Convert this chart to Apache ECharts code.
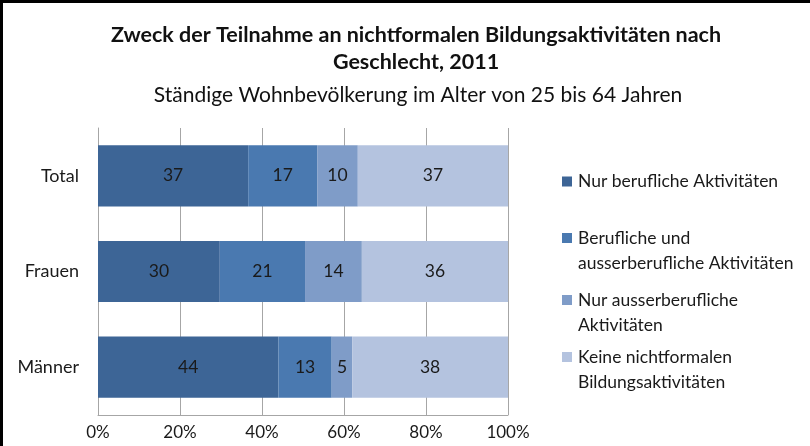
<!DOCTYPE html>
<html>
<head>
<meta charset="utf-8">
<script src="https://cdn.jsdelivr.net/npm/echarts@6/dist/echarts.min.js"></script>
<style>
  html, body { margin: 0; padding: 0; background: #fff; }
  #main { width: 810px; height: 446px; }
</style>
</head>
<body>
<div id="main"></div>
<script>
// Kategorien (von oben nach unten)
var categories = ["Total", "Frauen", "Männer"];
var seriesNames = [
  "Nur berufliche Aktivitäten",
  "Berufliche und ausserberufliche Aktivitäten",
  "Nur ausserberufliche Aktivitäten",
  "Keine nichtformalen Bildungsaktivitäten"
];
// Werte in %, wie beschriftet
var nurBeruflich = [37, 30, 44];
var beruflichUndAusser = [17, 21, 13];
var nurAusser = [10, 14, 5];
var keine = [37, 36, 38];
var xTicks = [0, 20, 40, 60, 80, 100];

var colors = ["#3D6596", "#4A79B0", "#7F9CC8", "#B4C3DF"];
// leere erste Zeile, damit das Symbol auf Höhe der ersten Textzeile sitzt
var legendTexts = [
  "Nur berufliche Aktivitäten",
  " \nBerufliche und\nausserberufliche Aktivitäten",
  " \nNur ausserberufliche\nAktivitäten",
  " \nKeine nichtformalen\nBildungsaktivitäten"
];
var legendTops = [164, 195.5, 257.5, 314.5];

var all = [nurBeruflich, beruflichUndAusser, nurAusser, keine];
// 100%-Stapel: jede Zeile auf ihre Summe normieren
var sums = categories.map(function (c, i) {
  return all.reduce(function (s, arr) { return s + arr[i]; }, 0);
});

var font = "Lato, 'Open Sans', sans-serif";

var series = all.map(function (arr, k) {
  return {
    name: seriesNames[k],
    type: "bar",
    stack: "a",
    barWidth: "64%",
    data: arr.map(function (v, i) { return { value: v / sums[i] * 100, raw: v }; }),
    itemStyle: { color: colors[k] },
    label: {
      show: true,
      position: "inside",
      color: "#1a1a1a",
      fontSize: 17.5,
      fontFamily: font,
      formatter: function (p) { return p.data.raw; }
    },
    emphasis: { disabled: true }
  };
});

var legends = seriesNames.map(function (n, k) {
  return {
    data: [n],
    orient: "vertical",
    left: 557,
    top: legendTops[k],
    itemWidth: 10,
    itemHeight: 10,
    itemGap: 0,
    icon: "rect",
    selectedMode: false,
    formatter: function () { return legendTexts[k]; },
    textStyle: {
      fontSize: 17.5, fontFamily: font, color: "#1a1a1a", lineHeight: 25,
      padding: [0, 0, 0, 1]
    }
  };
});

var chart = echarts.init(document.getElementById("main"));
chart.setOption({
  animation: false,
  color: colors,
  title: [
    {
      text: "Zweck der Teilnahme an nichtformalen Bildungsaktivitäten nach\nGeschlecht, 2011",
      left: 411, textAlign: "center", top: 17,
      textStyle: { fontSize: 21.5, fontWeight: "bold", fontFamily: font, color: "#111", lineHeight: 27 }
    },
    {
      text: "Ständige Wohnbevölkerung im Alter von 25 bis 64 Jahren",
      left: 413, textAlign: "center", top: 80,
      textStyle: { fontSize: 21, fontWeight: "normal", fontFamily: font, color: "#111" }
    }
  ],
  legend: legends,
  grid: { left: 98, right: 302, top: 128, bottom: 31, containLabel: false },
  xAxis: {
    type: "value",
    min: xTicks[0],
    max: xTicks[xTicks.length - 1],
    interval: 20,
    axisLine: { show: true, lineStyle: { color: "#a6a6a6" } },
    axisTick: { show: false },
    splitLine: { show: true, lineStyle: { color: "#a6a6a6", width: 1 } },
    axisLabel: { formatter: "{value}%", fontSize: 17, fontFamily: font, color: "#1a1a1a", margin: 9 }
  },
  yAxis: {
    type: "category",
    data: categories,
    inverse: true,
    axisLine: { show: true, lineStyle: { color: "#a6a6a6" } },
    axisTick: { show: false },
    axisLabel: { fontSize: 18, fontFamily: font, color: "#1a1a1a", margin: 19 }
  },
  graphic: [
    {
      type: "rect",
      shape: { x: 1.5, y: 1.5, width: 1000, height: 1000 },
      style: { fill: "none", stroke: "#000", lineWidth: 3 },
      silent: true
    }
  ],
  series: series
});
</script>
</body>
</html>
